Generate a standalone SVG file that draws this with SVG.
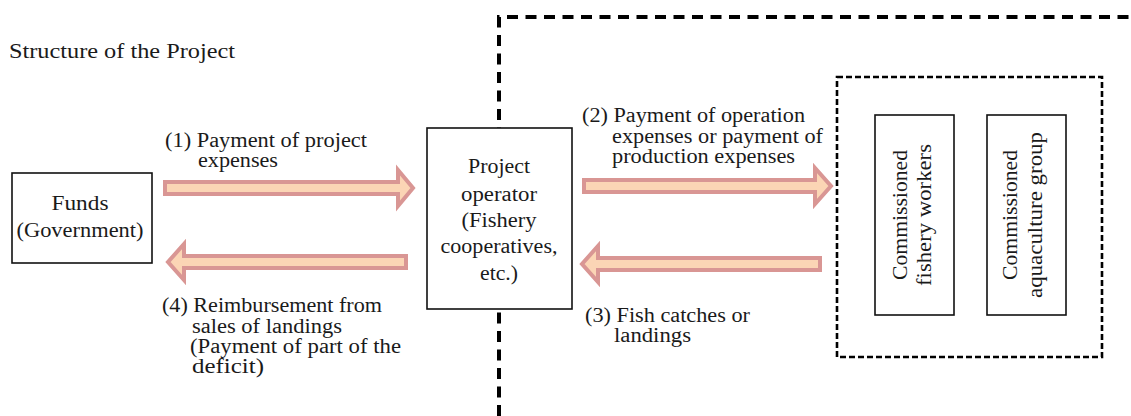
<svg xmlns="http://www.w3.org/2000/svg" width="1131" height="416" viewBox="0 0 1131 416">
<style>
text{font-family:"Liberation Serif","Times New Roman",serif;font-size:20px;fill:#1a1a1a}
.box{fill:#fff;stroke:#111;stroke-width:1.6}
.arrow{fill:#fbd5b5;stroke:#d99694;stroke-width:4;stroke-linejoin:miter}
.mid{text-anchor:middle}
</style>
<rect width="1131" height="416" fill="#fff"/>
<path d="M499,416 V17 H1131" fill="none" stroke="#000" stroke-width="4" stroke-dasharray="11 7.5"/>
<text x="9" y="58" style="font-size:21px" textLength="226" lengthAdjust="spacingAndGlyphs">Structure of the Project</text>
<g id="boundary">
<rect x="837" y="77" width="265" height="280" fill="none" stroke="#000" stroke-width="2.6" stroke-dasharray="6 3"/>
</g>
<g id="funds">
<rect class="box" x="12" y="173" width="140" height="90"/>
<text class="mid" x="80" y="210" textLength="57" lengthAdjust="spacingAndGlyphs">Funds</text>
<text class="mid" x="80" y="237" textLength="127" lengthAdjust="spacingAndGlyphs">(Government)</text>
</g>
<g id="operator">
<rect class="box" x="427" y="128" width="145" height="181"/>
<text class="mid" x="499" y="173" textLength="62" lengthAdjust="spacingAndGlyphs">Project</text>
<text class="mid" x="499" y="201" textLength="76" lengthAdjust="spacingAndGlyphs">operator</text>
<text class="mid" x="499" y="227" textLength="75" lengthAdjust="spacingAndGlyphs">(Fishery</text>
<text class="mid" x="499" y="253" textLength="117" lengthAdjust="spacingAndGlyphs">cooperatives,</text>
<text class="mid" x="499" y="280" textLength="38" lengthAdjust="spacingAndGlyphs">etc.)</text>
</g>
<g id="fishery">
<rect class="box" x="875" y="115" width="79" height="200"/>
<g transform="translate(915,215) rotate(-90)">
<text class="mid" x="0" y="-8" textLength="130" lengthAdjust="spacingAndGlyphs">Commissioned</text>
<text class="mid" x="0" y="16" textLength="142" lengthAdjust="spacingAndGlyphs">fishery workers</text>
</g>
</g>
<g id="aquaculture">
<rect class="box" x="987" y="115" width="79" height="200"/>
<g transform="translate(1026,215) rotate(-90)">
<text class="mid" x="0" y="-9" textLength="130" lengthAdjust="spacingAndGlyphs">Commissioned</text>
<text class="mid" x="0" y="16" textLength="166" lengthAdjust="spacingAndGlyphs">aquaculture group</text>
</g>
</g>
<g id="connectors">
<path class="arrow" d="M165,182 H398 V170 L413,188 L398,206 V194 H165 Z"/>
<path class="arrow" d="M406,256 H184 V244 L168,262 L184,280 V268 H406 Z"/>
<path class="arrow" d="M584,180 H815 V168 L831,186 L815,204 V192 H584 Z"/>
<path class="arrow" d="M820,258 H598 V246 L582,264 L598,282 V270 H820 Z"/>
<text x="165" y="147" textLength="202" lengthAdjust="spacingAndGlyphs">(1) Payment of project</text>
<text x="198" y="167" textLength="80" lengthAdjust="spacingAndGlyphs">expenses</text>
<text x="582" y="122" textLength="223" lengthAdjust="spacingAndGlyphs">(2) Payment of operation</text>
<text x="612" y="143" textLength="211" lengthAdjust="spacingAndGlyphs">expenses or payment of</text>
<text x="612" y="163" textLength="183" lengthAdjust="spacingAndGlyphs">production expenses</text>
<text x="585" y="322" textLength="165" lengthAdjust="spacingAndGlyphs">(3) Fish catches or</text>
<text x="614" y="342" textLength="77" lengthAdjust="spacingAndGlyphs">landings</text>
<text x="162" y="312" textLength="220" lengthAdjust="spacingAndGlyphs">(4) Reimbursement from</text>
<text x="192" y="333" textLength="150" lengthAdjust="spacingAndGlyphs">sales of landings</text>
<text x="190" y="353" textLength="211" lengthAdjust="spacingAndGlyphs">(Payment of part of the</text>
<text x="192" y="373" textLength="72" lengthAdjust="spacingAndGlyphs">deficit)</text>
</g>
</svg>
